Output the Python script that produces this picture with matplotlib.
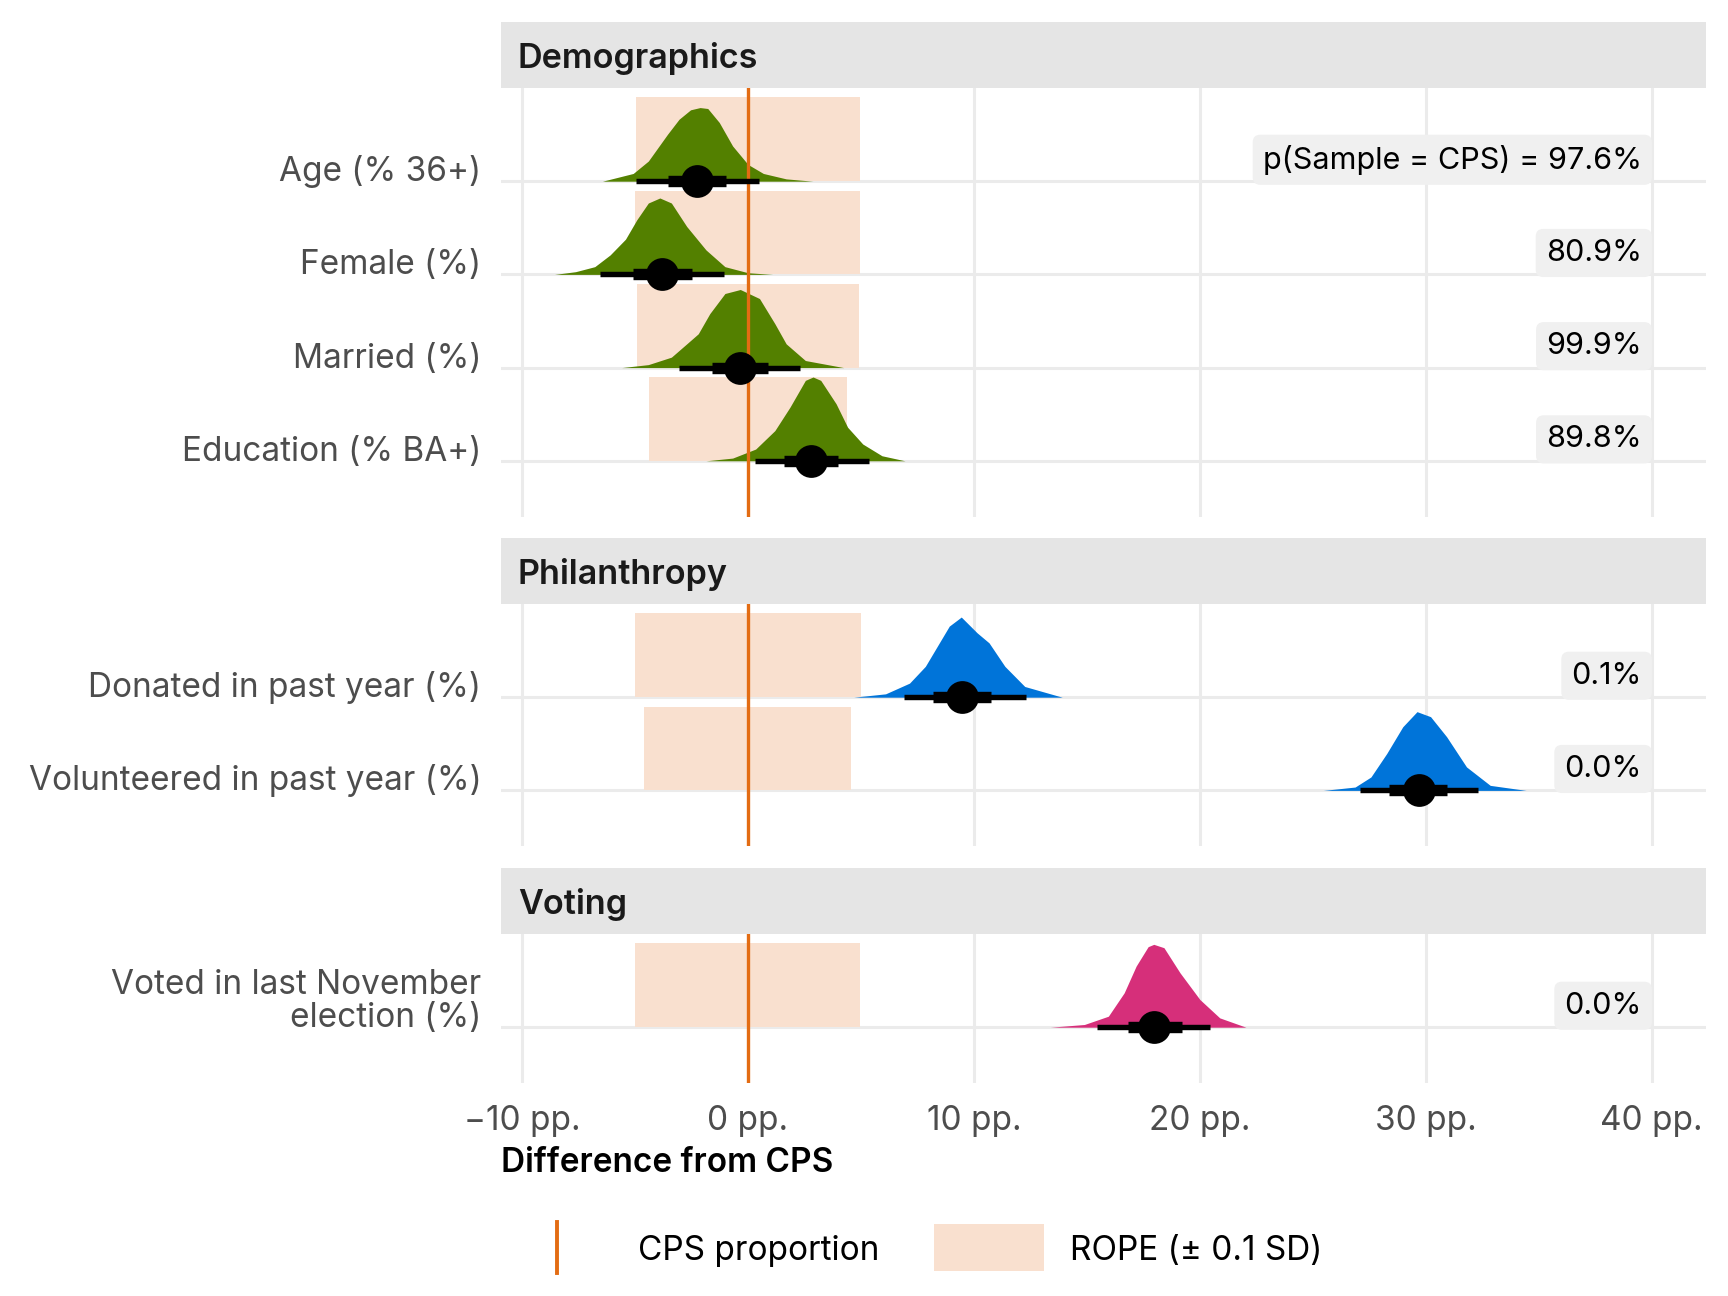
import matplotlib
matplotlib.use("Agg")
import matplotlib.pyplot as plt
from matplotlib.patches import Rectangle
from matplotlib.lines import Line2D

plt.rcParams["font.family"] = ["Inter", "DejaVu Sans"]

# data
groups = ["Demographics", "Philanthropy", "Voting"]
group_rows = [
    ["Age (% 36+)", "Female (%)", "Married (%)", "Education (% BA+)"],
    ["Donated in past year (%)", "Volunteered in past year (%)"],
    ["Voted in last November\nelection (%)"],
]
group_colors = ["#538000", "#0074D9", "#D62F7A"]

medians = [-2.25, -3.81, -0.37, 2.81, 9.47, 29.68, 17.99]
lo66 = [-3.56, -5.08, -1.61, 1.61, 8.20, 28.38, 16.83]
hi66 = [-0.97, -2.49, 0.88, 3.98, 10.77, 30.92, 19.19]
lo95 = [-4.95, -6.53, -3.05, 0.31, 6.90, 27.08, 15.46]
hi95 = [0.47, -1.05, 2.29, 5.34, 12.29, 32.29, 20.46]
rope_half = [4.97, 4.98, 4.91, 4.37, 5.00, 4.58, 4.98]
p_rope = ["p(Sample = CPS) = 97.6%", "80.9%", "99.9%", "89.8%", "0.1%", "0.0%", "0.0%"]

# posterior slab outlines (x in pp., height in row units)
slab_x = [
    [-6.44, -5.08, -4.41, -3.56, -3.05, -2.54, -2.12, -1.78, -1.27, -0.68, 0.0, 0.68, 1.69, 2.88],
    [-8.56, -7.63, -6.78, -6.10, -5.42, -4.92, -4.41, -3.90, -3.39, -2.71, -1.86, -1.02, 0.0, 1.10],
    [-5.59, -4.41, -3.39, -2.71, -2.20, -1.69, -1.02, -0.34, 0.51, 1.19, 1.69, 2.54, 4.24],
    [-1.86, -0.68, 0.34, 1.19, 1.86, 2.54, 2.88, 3.22, 3.90, 4.41, 5.08, 5.93, 6.95],
    [4.68, 6.09, 7.15, 7.85, 8.38, 8.91, 9.44, 10.14, 10.67, 11.37, 12.25, 13.91],
    [25.46, 26.87, 27.57, 28.27, 28.98, 29.61, 30.21, 30.92, 31.80, 32.85, 34.44],
    [13.38, 14.89, 15.95, 16.65, 17.18, 17.71, 17.96, 18.41, 19.12, 20.00, 20.88, 22.04],
]
slab_h = [
    [0, 0.083, 0.216, 0.504, 0.665, 0.766, 0.79, 0.78, 0.63, 0.378, 0.18, 0.083, 0.025, 0],
    [0, 0.029, 0.083, 0.209, 0.378, 0.586, 0.766, 0.82, 0.766, 0.514, 0.263, 0.083, 0.018, 0],
    [0, 0.032, 0.112, 0.255, 0.363, 0.579, 0.795, 0.838, 0.741, 0.471, 0.255, 0.076, 0],
    [0, 0.029, 0.126, 0.324, 0.576, 0.863, 0.899, 0.863, 0.612, 0.360, 0.180, 0.054, 0],
    [0, 0.036, 0.151, 0.331, 0.547, 0.763, 0.86, 0.691, 0.583, 0.331, 0.115, 0],
    [0, 0.036, 0.144, 0.396, 0.683, 0.845, 0.791, 0.576, 0.252, 0.054, 0],
    [0, 0.029, 0.118, 0.369, 0.656, 0.864, 0.889, 0.853, 0.584, 0.297, 0.100, 0],
]

xticks = [-10, 0, 10, 20, 30, 40]
xticklabels = ["\u221210 pp.", "0 pp.", "10 pp.", "20 pp.", "30 pp.", "40 pp."]

rope_color = "#F9E0CF"
cps_color = "#E36C13"
grid_color = "#EBEBEB"
fs = 12.0

W, H = 1728, 1296
fig = plt.figure(figsize=(W / 200, H / 200), dpi=200)

unit = 93.2          # pixels per row
left, right = 501, 1706
strip_h = 66
panel_tops = [88, 604, 934]

k = 0
for g, (name, labels) in enumerate(zip(groups, group_rows)):
    n = len(labels)
    ph = (n + 0.6) * unit
    top = panel_tops[g]
    ax = fig.add_axes([left / W, 1 - (top + ph) / H, (right - left) / W, ph / H])
    ax.set_xlim(-10.93, 42.4)
    ax.set_ylim(0.4, n + 1.0)
    for s in ax.spines.values():
        s.set_visible(False)
    ax.set_xticks(xticks)
    ax.set_yticks(range(1, n + 1))
    ax.set_yticklabels([])
    ax.grid(True, color=grid_color, lw=1.1, zorder=0)
    ax.set_axisbelow(True)
    ax.tick_params(length=0, labelsize=fs, labelcolor="#4D4D4D", pad=7.8)
    if g < 2:
        ax.set_xticklabels([])
    else:
        ax.set_xticklabels(xticklabels)

    # strip
    sh = strip_h / ph
    ax.add_patch(Rectangle((0, 1), 1, sh, transform=ax.transAxes, clip_on=False,
                           facecolor="#E5E5E5", edgecolor="none"))
    ax.text(17 / (right - left), 1 + (strip_h / 2 - 3.3) / ph, name, transform=ax.transAxes,
            ha="left", va="center", fontsize=12.3, fontweight="semibold", color="#1A1A1A")

    ax.axvline(0, color=cps_color, lw=1.2, zorder=3)

    for i, lab in enumerate(labels):
        y = n - i
        ax.add_patch(Rectangle((-rope_half[k], y), 2 * rope_half[k], 0.9,
                               facecolor=rope_color, edgecolor="none", zorder=1))
        ax.fill_between(slab_x[k], y, [y + h for h in slab_h[k]],
                        color=group_colors[g], lw=0, zorder=2)
        ax.plot([lo95[k], hi95[k]], [y, y], color="black", lw=1.95,
                solid_capstyle="butt", zorder=4)
        ax.plot([lo66[k], hi66[k]], [y, y], color="black", lw=4.1,
                solid_capstyle="butt", zorder=4)
        ax.plot(medians[k], y, "o", color="black", ms=10.8, zorder=5)
        ax.annotate(p_rope[k], xy=(40, y + 0.23), xytext=(-3.6, 0),
                    textcoords="offset points", ha="right", va="center",
                    fontsize=11.0, color="black", zorder=6,
                    bbox=dict(boxstyle="round,pad=0.33,rounding_size=0.25",
                              fc="#F0F0F0", ec="none"))
        if "\n" in lab:
            ax.annotate(lab, xy=(0, y), xycoords=("axes fraction", "data"),
                        xytext=(-7.1, -2.5), textcoords="offset points",
                        ha="right", va="bottom", multialignment="right",
                        linespacing=1.05, fontsize=fs, color="#4D4D4D",
                        annotation_clip=False)
        else:
            ax.annotate(lab, xy=(0, y), xycoords=("axes fraction", "data"),
                        xytext=(-7.1, 0), textcoords="offset points",
                        ha="right", va="baseline", fontsize=fs, color="#4D4D4D",
                        annotation_clip=False)
        k += 1

fig.text(left / W, 1 - 1163 / H, "Difference from CPS", ha="left", va="center",
         fontsize=fs, fontweight="semibold", color="black")

# legend
ly = 1 - 1251 / H
fig.add_artist(Line2D([557 / W, 557 / W], [1 - 1222 / H, 1 - 1273 / H],
                      color=cps_color, lw=1.4))
fig.text(638 / W, ly, "CPS proportion", ha="left", va="center", fontsize=fs, color="black")
fig.add_artist(Rectangle((934 / W, 1 - 1271 / H), 110 / W, 47 / H,
                         facecolor=rope_color, edgecolor="none"))
fig.text(1070 / W, ly, "ROPE (\u00b1 0.1 SD)", ha="left", va="center", fontsize=fs, color="black")

fig.savefig("out.png", dpi=200, facecolor="white")
